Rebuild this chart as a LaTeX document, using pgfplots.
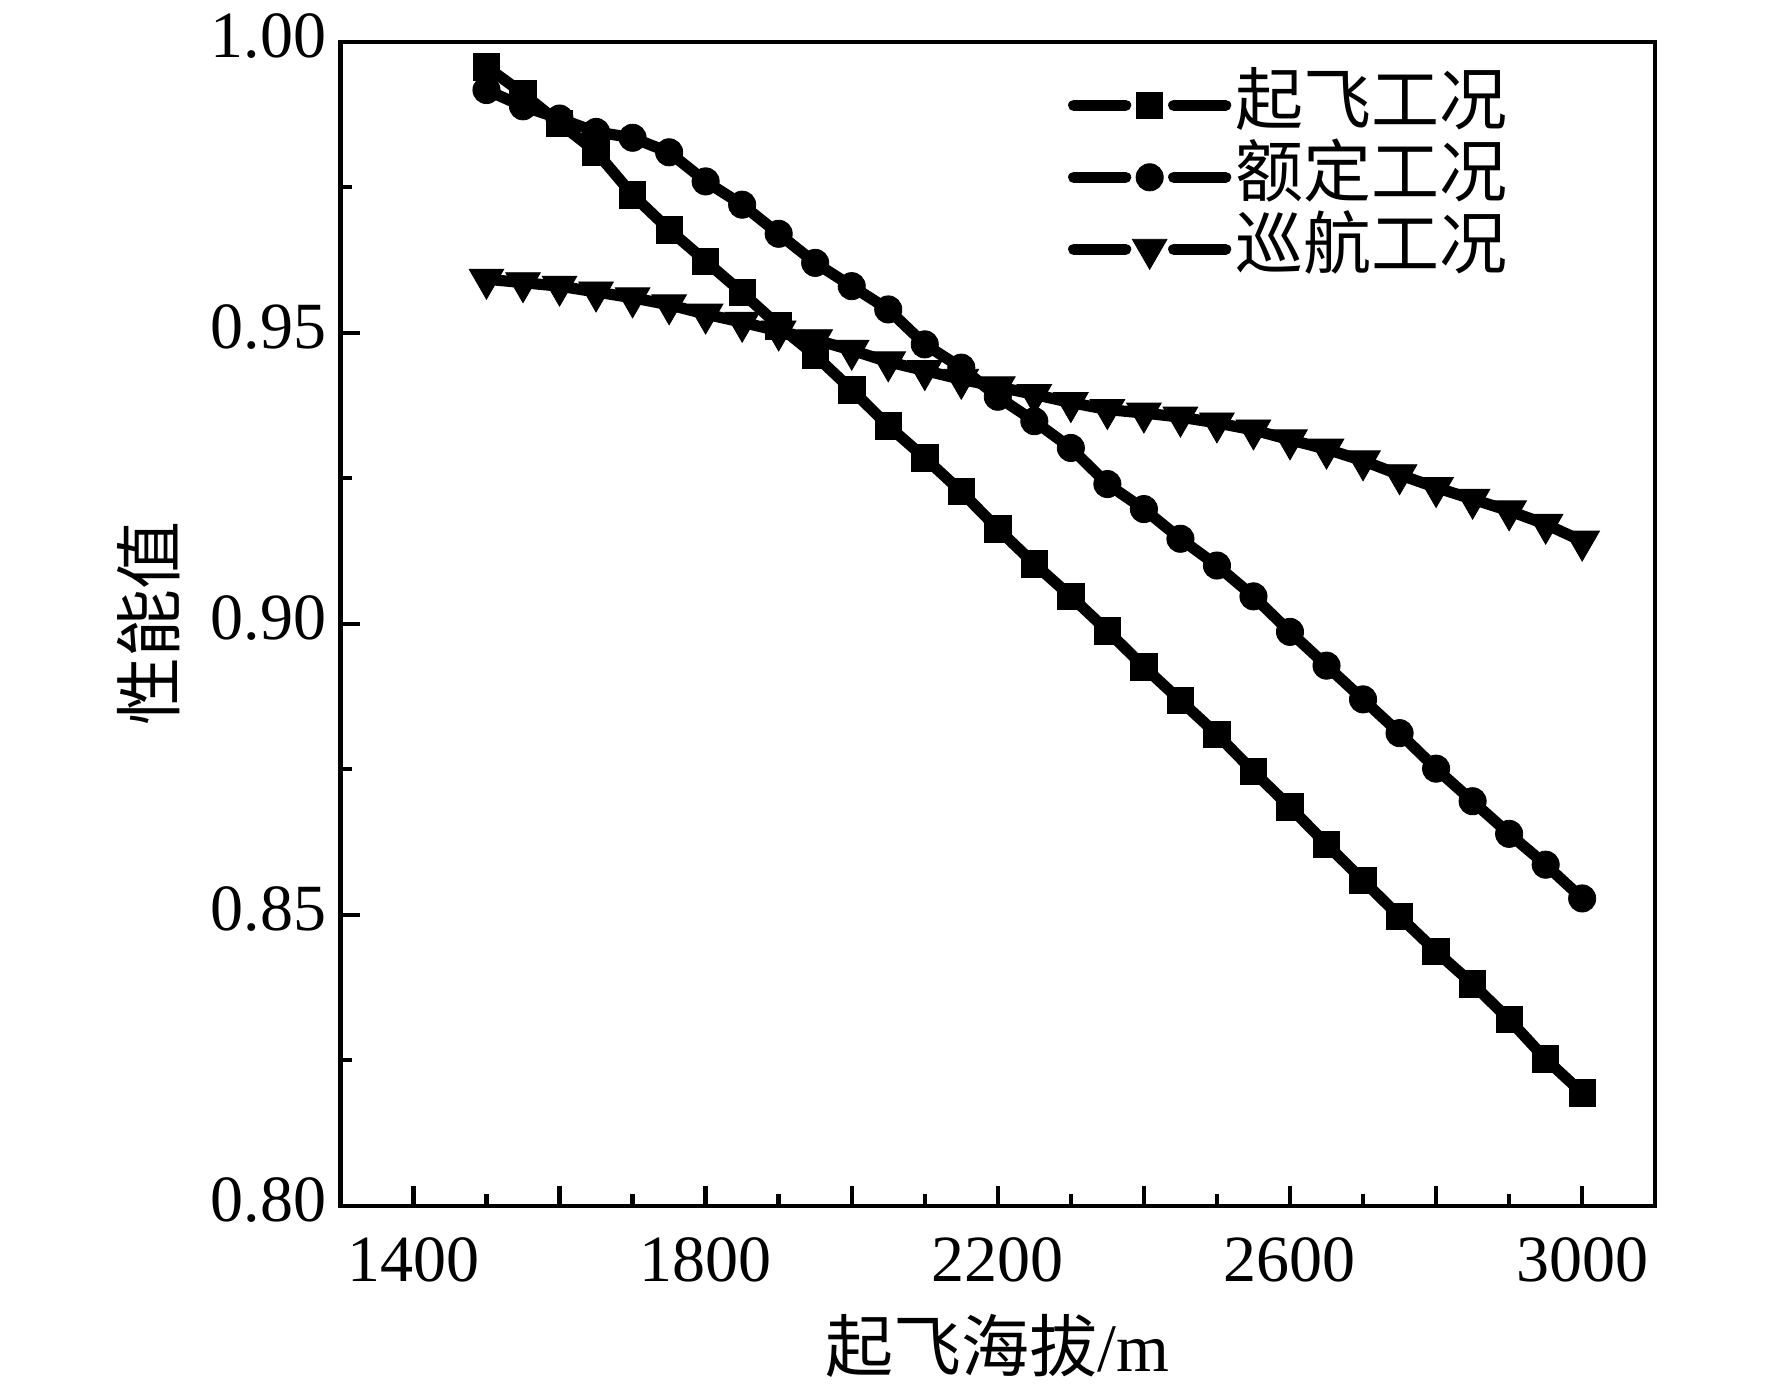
\documentclass[border=0pt]{standalone}
\usepackage{pgfplots}
\pgfplotsset{compat=1.18}
\usepackage{fontspec}
\setmainfont{Liberation Serif}
\newfontfamily\cjk{Noto Sans CJK SC}
\begin{document}
\begin{tikzpicture}
\begin{axis}[
  at={(0,0)}, anchor=south west,
  width=328.7pt, height=291pt, scale only axis,
  xmin=1300, xmax=3100, ymin=0.80, ymax=1.00,
  xtick={1400,1600,...,3000},
  xticklabels={1400,,1800,,2200,,2600,,3000},
  minor x tick num=1,
  ytick={0.80,0.85,0.90,0.95,1.00},
  minor y tick num=1,
  yticklabel style={/pgf/number format/fixed,/pgf/number format/fixed zerofill,/pgf/number format/precision=2, yshift=1.5pt},
  /pgf/number format/assume math mode=true,
  tick align=inside, xtick pos=bottom, ytick pos=left,
  major tick length=5pt, minor tick length=3pt,
  every tick/.style={black, line width=1.1pt},
  axis line style={line width=1.1pt},
  tick label style={font=\fontsize{16.5}{19}\selectfont},
  xticklabel shift=4.5pt,
  xlabel={{\cjk 起飞海拔}/m},
  ylabel={\cjk 性能值},
  label style={font=\fontsize{17}{20}\selectfont},
  xlabel style={at={(axis description cs:0.5,0)}, anchor=center, yshift=-35pt},
  ylabel style={at={([xshift=-48pt]axis description cs:0,0.5)}, anchor=center},
  legend style={draw=none, fill=none, at={(axis description cs:0.5437,0.983)}, anchor=north west,
    font=\fontsize{17}{18}\selectfont\cjk, row sep=0.5pt, legend cell align=left,
    nodes={inner sep=1pt, text height=12.5pt, text depth=3pt}},
  legend image code/.code={
    \draw[#1,mark=none,line cap=round] (0pt,0pt)--(13pt,0pt) (25pt,0pt)--(38pt,0pt);
    \draw[#1] plot coordinates {(19pt,0pt)};
  },
]
\addplot[black, line width=2.8pt, mark=square*, mark size=3.3pt, mark options={solid, line width=0.2pt}] table {
1500 0.9957
1550 0.9911
1600 0.9860
1650 0.9811
1700 0.9737
1750 0.9677
1800 0.9623
1850 0.9569
1900 0.9512
1950 0.9461
2000 0.9402
2050 0.9340
2100 0.9285
2150 0.9227
2200 0.9163
2250 0.9103
2300 0.9047
2350 0.8988
2400 0.8926
2450 0.8868
2500 0.8810
2550 0.8746
2600 0.8685
2650 0.8621
2700 0.8559
2750 0.8497
2800 0.8437
2850 0.8381
2900 0.8320
2950 0.8252
3000 0.8194
};
\addlegendentry{起飞工况}
\addplot[black, line width=2.8pt, mark=*, mark size=3.4pt, mark options={solid, line width=0.2pt}] table {
1500 0.9917
1550 0.9889
1600 0.9868
1650 0.9845
1700 0.9835
1750 0.9810
1800 0.9760
1850 0.9720
1900 0.9670
1950 0.9620
2000 0.9580
2050 0.9540
2100 0.9480
2150 0.9440
2200 0.9390
2250 0.9348
2300 0.9302
2350 0.9240
2400 0.9197
2450 0.9146
2500 0.9100
2550 0.9047
2600 0.8986
2650 0.8928
2700 0.8870
2750 0.8812
2800 0.8751
2850 0.8695
2900 0.8639
2950 0.8586
3000 0.8528
};
\addlegendentry{额定工况}
\addplot[black, line width=2.8pt, mark=triangle*, mark size=5pt, mark options={solid, rotate=180, line width=0.2pt}] table {
1500 0.9592
1550 0.9586
1600 0.9580
1650 0.9570
1700 0.9560
1750 0.9548
1800 0.9532
1850 0.9518
1900 0.9503
1950 0.9488
2000 0.9470
2050 0.9450
2100 0.9435
2150 0.9420
2200 0.9407
2250 0.9394
2300 0.9380
2350 0.9368
2400 0.9362
2450 0.9355
2500 0.9345
2550 0.9333
2600 0.9316
2650 0.9300
2700 0.9280
2750 0.9256
2800 0.9234
2850 0.9214
2900 0.9194
2950 0.9171
3000 0.9142
};
\addlegendentry{巡航工况}
\end{axis}
\path[use as bounding box] (-85.1pt,-45.75pt) rectangle (357.9pt,301pt);
\end{tikzpicture}
\end{document}
